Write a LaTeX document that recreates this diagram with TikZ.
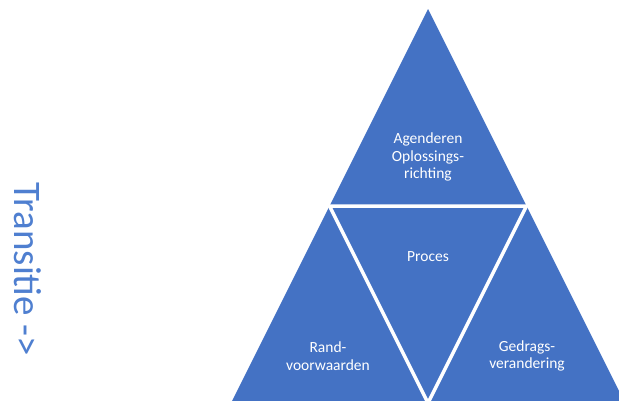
\documentclass[tikz,border=0pt]{standalone}
\usepackage{fontspec}
\setmainfont{Carlito}
\definecolor{tblue}{HTML}{4472C4}
\definecolor{ttext}{HTML}{4F7FD0}
\begin{document}
\begin{tikzpicture}[x=1pt,y=-1pt,
  tri/.style={fill=tblue,draw=white,line width=3.5pt,line join=miter},
  lbl/.style={text=white,align=center,font=\fontsize{15.5}{17.5}\selectfont,inner sep=0pt}]
\useasboundingbox (0,0) rectangle (619,400);
\begin{scope}
\clip (0,0) rectangle (619,400);
\coordinate (A) at (428,9);
\coordinate (L) at (231,403);
\coordinate (R) at (625,403);
\coordinate (ML) at (329.5,206);
\coordinate (MR) at (526.5,206);
\coordinate (MB) at (428,403);
\fill[tblue] (A) -- (L) -- (R) -- cycle;
\draw[white,line width=3.5pt] (ML) -- (MR) -- (MB) -- cycle;
\end{scope}
\node[lbl] (top) at (428,157) {Agenderen\\Oplossings-\\richting};
\node[lbl] (mid) at (428,257) {Proces};
\node[lbl] (left) at (328,356) {Rand-\\voorwaarden};
\node[lbl] (right) at (527,356) {Gedrags-\\verandering};
\node[rotate=-90,anchor=north west,inner sep=0pt,text=ttext,font=\fontsize{39}{42}\selectfont] (tr) at (42,182) {Transitie ->};
\end{tikzpicture}
\end{document}
